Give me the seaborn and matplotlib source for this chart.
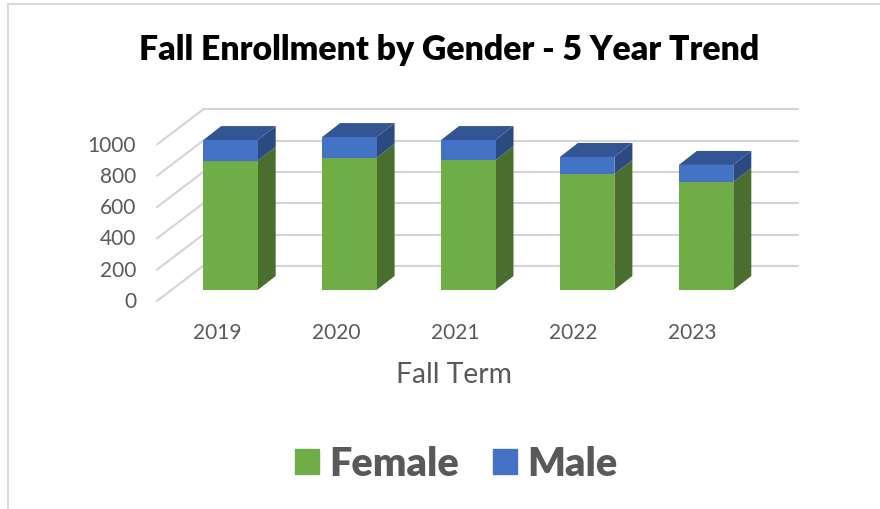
import matplotlib
matplotlib.use("Agg")
import matplotlib.pyplot as plt
from matplotlib.lines import Line2D
from matplotlib.patches import Patch
from matplotlib.transforms import ScaledTranslation
import seaborn as sns

years = ["2019", "2020", "2021", "2022", "2023"]
female = [826, 845, 830, 741, 690]
male = [132, 132, 128, 109, 109]
yticks = [0, 200, 400, 600, 800, 1000]

GREEN = "#70AD47"
GREEN_SIDE = "#4A6E2D"
BLUE = "#4472C4"
BLUE_SIDE = "#2B4A80"
BLUE_TOP = "#335593"
GRID = "#D4D4D4"
TEXT = "#595959"

sns.set_theme(style="white")
plt.rcParams["font.family"] = ["Lato", "DejaVu Sans"]

fig = plt.figure(figsize=(8.8, 5.09), dpi=100)
ax = fig.add_axes([171 / 880, 1 - 290 / 509, 594.5 / 880, 156.5 / 509])
ax.patch.set_alpha(0)

bar_width = 54.5 / 118.9
sns.barplot(x=years, y=female, color=GREEN, saturation=1, width=bar_width, linewidth=0, ax=ax, zorder=3)
sns.barplot(x=years, y=male, bottom=female, color=BLUE, saturation=1, width=bar_width, linewidth=0, ax=ax, zorder=3)
ax.set_xlim(-0.5, 4.5)
ax.set_ylim(0, 1000)


def px_shift(dx, dy):
    return ScaledTranslation(dx / fig.dpi, dy / fig.dpi, fig.dpi_scale_trans)


# pixel sizes of the fake 3d turned into data units
unit_x = 1 / 118.9
unit_y = 1000 / 156.5
depth_x = 18 * unit_x
depth_y = 14 * unit_y
half = bar_width / 2
for i in range(len(years)):
    right = i + half
    left = i - half
    top = female[i] + male[i]
    ax.fill([right, right + depth_x, right + depth_x, right],
            [0, depth_y, female[i] + depth_y, female[i]],
            color=GREEN_SIDE, lw=0, zorder=2, clip_on=False)
    ax.fill([right, right + depth_x, right + depth_x, right],
            [female[i], female[i] + depth_y, top + depth_y, top],
            color=BLUE_SIDE, lw=0, zorder=2, clip_on=False)
    ax.fill([left, left + depth_x, right + depth_x, right],
            [top, top + depth_y, top + depth_y, top],
            color=BLUE_TOP, lw=0, zorder=2, clip_on=False)

# back wall gridlines and the diagonals on the left side
wall_x = 32 * unit_x
wall_y = 24 * unit_y
front_x = 14 * unit_x
front_y = 11 * unit_y
for v in yticks:
    ax.plot([-0.5 + wall_x, 4.5 + wall_x], [v + wall_y, v + wall_y],
            color=GRID, lw=1.5, clip_on=False, zorder=1)
    ax.plot([-0.5 - front_x, -0.5 + wall_x], [v - front_y, v + wall_y],
            color=GRID, lw=1.5, clip_on=False, zorder=1)

ax.set_yticks(yticks)
ax.set_yticklabels([str(v) for v in yticks])
ax.tick_params(axis="y", length=0, pad=15, labelsize=15, labelcolor=TEXT)
ax.tick_params(axis="x", length=0, pad=23.5, labelsize=15, labelcolor=TEXT)
for label in ax.get_yticklabels():
    label.set_transform(label.get_transform() + px_shift(-14, -10))
for label in ax.get_xticklabels():
    label.set_transform(label.get_transform() + px_shift(-13.5, 0))
sns.despine(ax=ax, left=True, bottom=True)

ax.set_xlabel("Fall Term", fontsize=20.3, color=TEXT)
ax.xaxis.set_label_coords((454 - 171) / 594.5, -0.46)
ax.set_ylabel("")

fig.text(449.5 / 880, 1 - 49.5 / 509, "Fall Enrollment by Gender - 5 Year Trend",
         fontsize=24.3, fontweight="heavy", color="black", ha="center", va="center")

handles = [Patch(color=GREEN, label="Female"), Patch(color=BLUE, label="Male")]
fig.legend(handles=handles, loc="center", bbox_to_anchor=(456.5 / 880, 1 - 464 / 509), ncol=2,
           frameon=False, labelcolor=TEXT, prop={"weight": "heavy", "size": 28.5},
           handlelength=0.6, handleheight=0.6, handletextpad=0.27, columnspacing=0.85)

# frame of the original chart, cropped at the right and bottom
fig.add_artist(Line2D([8 / 880, 8 / 880], [0, 1 - 4 / 509], color="#D9D9D9", lw=1.5))
fig.add_artist(Line2D([8 / 880, 1], [1 - 4 / 509, 1 - 4 / 509], color="#D9D9D9", lw=1.5))

fig.savefig("out.png", dpi=100)
